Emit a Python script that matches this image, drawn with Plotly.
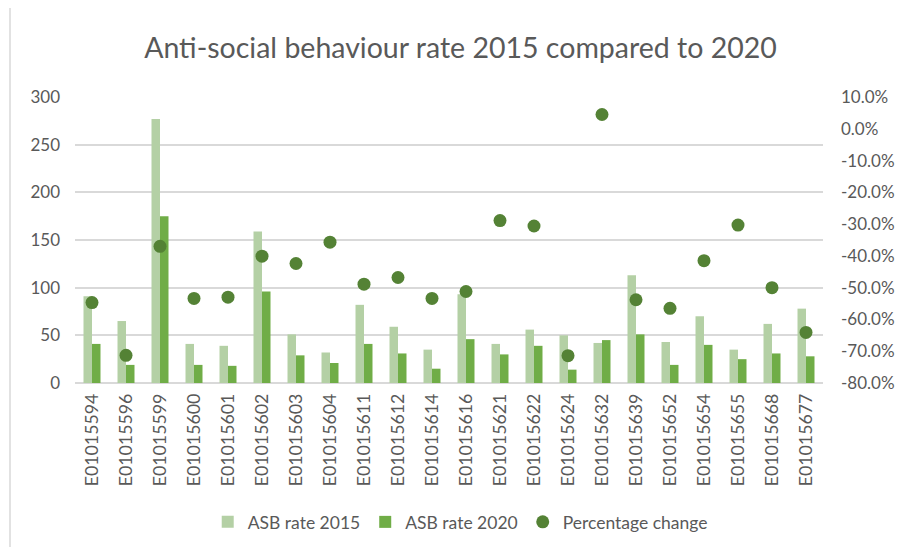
import plotly.graph_objects as go

# LSOA codes on the x axis
lsoa = [
    "E01015594", "E01015596", "E01015599", "E01015600", "E01015601", "E01015602",
    "E01015603", "E01015604", "E01015611", "E01015612", "E01015614", "E01015616",
    "E01015621", "E01015622", "E01015624", "E01015632", "E01015639", "E01015652",
    "E01015654", "E01015655", "E01015668", "E01015677",
]

# ASB rates
asb_2015 = [91, 65, 277, 41, 39, 159, 51, 32, 82, 59, 35, 93,
            41, 56, 50, 42, 113, 43, 70, 35, 62, 78]
asb_2020 = [41, 19, 175, 19, 18, 96, 29, 21, 41, 31, 15, 46,
            30, 39, 14, 45, 51, 19, 40, 25, 31, 28]

# percentage change (right axis)
pct_change = [-0.547, -0.713, -0.370, -0.534, -0.530, -0.401, -0.424, -0.357,
              -0.489, -0.468, -0.534, -0.512, -0.289, -0.306, -0.714, 0.045,
              -0.538, -0.565, -0.415, -0.303, -0.500, -0.641]

# right axis ticks (Excel style, plain hyphen)
pct_ticks = [0.1, 0.0, -0.1, -0.2, -0.3, -0.4, -0.5, -0.6, -0.7, -0.8]
pct_labels = ["10.0%", "0.0%", "-10.0%", "-20.0%", "-30.0%", "-40.0%",
              "-50.0%", "-60.0%", "-70.0%", "-80.0%"]

TEXT = "#595959"
GRID = "#D9D9D9"
FONT = "Lato, Calibri, sans-serif"

fig = go.Figure()
fig.add_trace(go.Bar(x=lsoa, y=asb_2015, name="ASB rate 2015",
                     marker_color="#B4D0A5", marker_line_width=0))
fig.add_trace(go.Bar(x=lsoa, y=asb_2020, name="ASB rate 2020",
                     marker_color="#70AD47", marker_line_width=0))
fig.add_trace(go.Scatter(x=lsoa, y=pct_change, name="Percentage change",
                         mode="markers", yaxis="y2",
                         marker=dict(size=13, color="#548235")))

# page body has an 8px margin, so the figure is drawn 8px in from the corner
fig.update_layout(
    width=896, height=539,
    margin=dict(l=67, r=81, t=89, b=164, autoexpand=False),
    paper_bgcolor="white", plot_bgcolor="white",
    font=dict(family=FONT, size=17, color=TEXT),
    title=dict(text="Anti-social behaviour rate 2015 compared to 2020",
               x=0.505, xanchor="center", y=0.926, yanchor="middle",
               font=dict(size=28.5, color=TEXT)),
    barmode="group", bargap=0.5, bargroupgap=0,
    xaxis=dict(tickangle=-90, showgrid=False, showline=False, ticks="",
               range=[-0.5, len(lsoa) - 0.5], automargin=False,
               tickfont=dict(size=17.8), ticklabelstandoff=6),
    yaxis=dict(range=[0, 300], dtick=50, gridcolor=GRID, gridwidth=1.5,
               zeroline=True, zerolinecolor=GRID, zerolinewidth=1.5,
               automargin=False, ticklabelstandoff=14),
    yaxis2=dict(range=[-0.8, 0.1], tickvals=pct_ticks, ticktext=pct_labels,
                overlaying="y", side="right", showgrid=False, zeroline=False,
                automargin=False, ticklabelstandoff=17),
    legend=dict(orientation="h", x=0.515, xanchor="center", y=-0.486,
                yanchor="middle", font=dict(size=17.5, color=TEXT),
                bgcolor="rgba(0,0,0,0)"),
    showlegend=True,
)

# thin frame line down the left edge of the chart area
fig.add_shape(type="line", xref="paper", yref="paper",
              x0=-65 / 748, x1=-65 / 748, y0=-0.6, y1=1.4,
              line=dict(color="#D9D9D9", width=1.5))

fig.write_html("out.html")
